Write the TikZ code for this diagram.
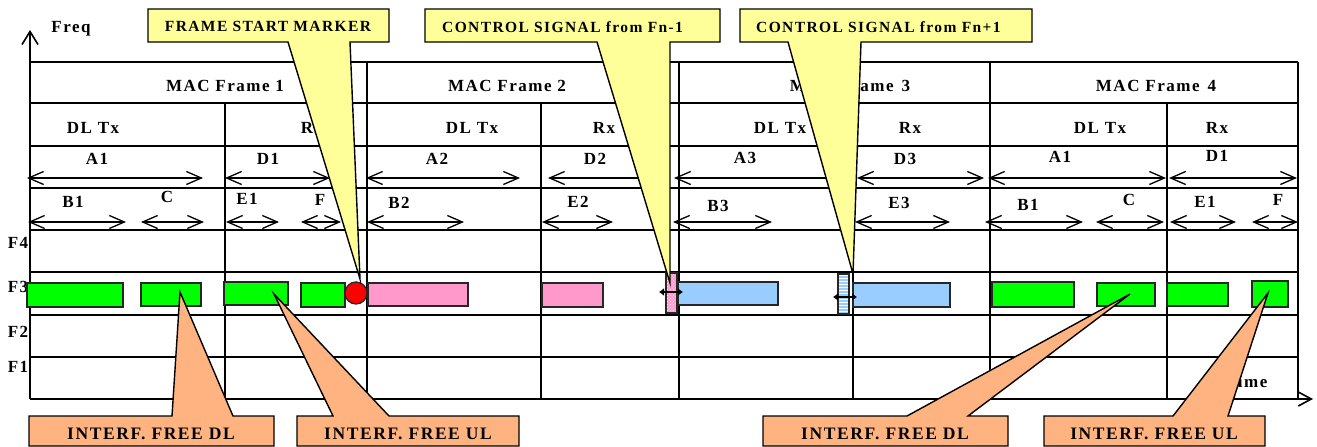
\documentclass[tikz,border=0pt]{standalone}
\usepackage{fontspec}
\setmainfont{Liberation Serif}
\newfontfamily\chartfont{Liberation Serif}[LetterSpace=9]
\usetikzlibrary{arrows.meta,patterns}
\definecolor{slotgreen}{HTML}{00FF00}
\definecolor{slotpink}{HTML}{FF99CC}
\definecolor{slotblue}{HTML}{99CCFF}
\definecolor{markred}{HTML}{FF0000}
\definecolor{noteyellow}{HTML}{FFFF99}
\definecolor{noteorange}{HTML}{FFB380}
\begin{document}
\begin{tikzpicture}[x=1pt,y=-1pt,
  gridline/.style={line width=1.6pt},
  span/.style={line width=1.3pt,{Straight Barb[length=15pt,width=13pt]}-{Straight Barb[length=15pt,width=13pt]}},
  lbl/.style={font=\chartfont\bfseries\fontsize{17}{19}\selectfont, anchor=base, inner sep=0pt},
  toplbl/.style={font=\chartfont\bfseries\fontsize{15.5}{18}\selectfont, anchor=base, inner sep=0pt},
  botlbl/.style={font=\chartfont\bfseries\fontsize{17.5}{20}\selectfont, anchor=base, inner sep=0pt},
  slot/.style={draw=black!85, line width=1.3pt},
  ctrl/.style={line width=2.2pt,{Latex[length=5pt,width=8pt]}-{Latex[length=5pt,width=8pt]}},
  noteY/.style={fill=noteyellow, draw=black, line width=1.4pt, line join=miter},
  noteO/.style={fill=noteorange, draw=black, line width=1.4pt, line join=miter}]
\useasboundingbox (0,0) rectangle (1317,447);

% axes
\coordinate (origin) at (30,399);
\coordinate (freqend) at (30,30);
\coordinate (timeend) at (1313,399);
\draw[gridline,-{Straight Barb[length=13pt,width=16pt]}] (origin) -- (freqend);
\draw[gridline,-{Straight Barb[length=13pt,width=14pt]}] (origin) -- (timeend);
\node[lbl] (freq) at (71,32) {Freq};
\node[lbl] (time) at (1249,387) {time};

% table rows and columns
\foreach \y in {62,103,146,188,230,272,315,357}
  \draw[gridline] (30,\y) -- (1298,\y);
\foreach \x in {367,679,990,1298}
  \draw[gridline] (\x,62) -- (\x,399);
\foreach \x in {225,541,853,1167}
  \draw[gridline] (\x,103) -- (\x,399);

% frame headings
\node[lbl] (mac1) at (225,91) {MAC Frame 1};
\node[lbl] (mac2) at (507,91) {MAC Frame 2};
\node[lbl] (mac3) at (850,91) {MAC Frame\hspace{8pt}3};
\node[lbl] (mac4) at (1156,91) {MAC Frame\hspace{8pt}4};

\foreach \x/\t [count=\i] in {93/DL Tx,312/Rx,472/DL Tx,604/Rx,780/DL Tx,910/Rx,1100/DL Tx,1217/Rx}
  \node[lbl] (dir\i) at (\x,133) {\t};

% period spans
\foreach \x/\y/\t [count=\i] in {97/164/A1,268/164/D1,437/164/A2,595/164/D2,745/163/A3,905/164/D3,1060/162/A1,1217/161/D1}
  \node[lbl] (per\i) at (\x,\y) {\t};
\foreach \a/\b in {27/203,225/330,366/520,548/665,674/848,857/984,988/1166,1169/1297}
  \draw[span] (\a,178) -- (\b,178);

\foreach \x/\y/\t [count=\i] in {73/207/B1,167/202/C,247/204/E1,320/205/F,399/208/B2,578/207/E2,718/211/B3,899/208/E3,1028/210/B1,1129/205/C,1205/207/E1,1278/205/F}
  \node[lbl] (sub\i) at (\x,\y) {\t};
\foreach \a/\b in {28/126,141/204,226/279,301/341,367/464,542/613,673/772,855/950,985/1083,1096/1164,1170/1236,1252/1298}
  \draw[span] (\a,222) -- (\b,222);

% frequency channels
\foreach \y/\t in {248/F4,292/F3,337/F2,372/F1}
  \node[lbl] (ch\t) at (18,\y) {\t};

% transmissions on F3
\foreach \a/\b/\c/\d in {27/283/123/307,141/283/201/306,224/282/288/305,301/283/345/307,992/282/1074/307,1097/283/1155/306,1167/283/1228/306,1252/281/1288/307}
  \draw[slot,fill=slotgreen] (\a,\b) rectangle (\c,\d);
\foreach \a/\b/\c/\d in {368/283/468/306,542/283/603/307}
  \draw[slot,fill=slotpink] (\a,\b) rectangle (\c,\d);
\foreach \a/\b/\c/\d in {678/282/778/305,853/283/950/307}
  \draw[slot,fill=slotblue] (\a,\b) rectangle (\c,\d);
\draw[slot,fill=markred] (356,293) circle[radius=11pt];

% control signals
\fill[slotpink] (666,273) rectangle (677,313);
\fill[pattern=crosshatch dots, pattern color=white] (666,273) rectangle (677,313);
\draw[slot] (666,273) rectangle (677,313);
\draw[ctrl] (659,292) -- (683,292);
\fill[slotblue] (838,274) rectangle (849,314);
\fill[pattern=horizontal lines, pattern color=white] (838,274) rectangle (849,314);
\draw[slot] (838,274) rectangle (849,314);
\draw[ctrl] (833,297) -- (857,297);

% callouts above
\coordinate (markTip) at (360,279);
\coordinate (prevTip) at (670,283);
\coordinate (nextTip) at (853,274);
\draw[noteY] (148,9) -- (389,9) -- (389,42) -- (350,42) -- (markTip) -- (288,42) -- (148,42) -- cycle;
\node[toplbl] (markNote) at (268,31) {FRAME START MARKER};
\draw[noteY] (425,9) -- (720,9) -- (720,42) -- (670,42) -- (prevTip) -- (597,42) -- (425,42) -- cycle;
\node[toplbl,anchor=base west] (prevNote) at (442,32) {CONTROL SIGNAL from Fn-1};
\draw[noteY] (740,9) -- (1032,9) -- (1032,42) -- (861,42) -- (nextTip) -- (788,42) -- (740,42) -- cycle;
\node[toplbl,anchor=base west] (nextNote) at (756,32) {CONTROL SIGNAL from Fn+1};

% callouts below
\coordinate (dlTipA) at (180,292);
\coordinate (ulTipA) at (274,294);
\coordinate (dlTipB) at (1130,294);
\coordinate (ulTipB) at (1268,293);
\draw[noteO] (29,446) -- (29,416) -- (172,416) -- (dlTipA) -- (233,416) -- (274,416) -- (274,446) -- cycle;
\node[botlbl] (dlNoteA) at (151,439) {INTERF. FREE DL};
\draw[noteO] (297,446) -- (297,416) -- (333,416) -- (ulTipA) -- (389,416) -- (519,416) -- (519,446) -- cycle;
\node[botlbl] (ulNoteA) at (408,439) {INTERF. FREE UL};
\draw[noteO] (763,446) -- (763,416) -- (907,416) -- (dlTipB) -- (968,416) -- (1008,416) -- (1008,446) -- cycle;
\node[botlbl] (dlNoteB) at (885,439) {INTERF. FREE DL};
\draw[noteO] (1044,446) -- (1044,416) -- (1173,416) -- (ulTipB) -- (1228,416) -- (1265,416) -- (1265,446) -- cycle;
\node[botlbl] (ulNoteB) at (1154,439) {INTERF. FREE UL};
\end{tikzpicture}
\end{document}
